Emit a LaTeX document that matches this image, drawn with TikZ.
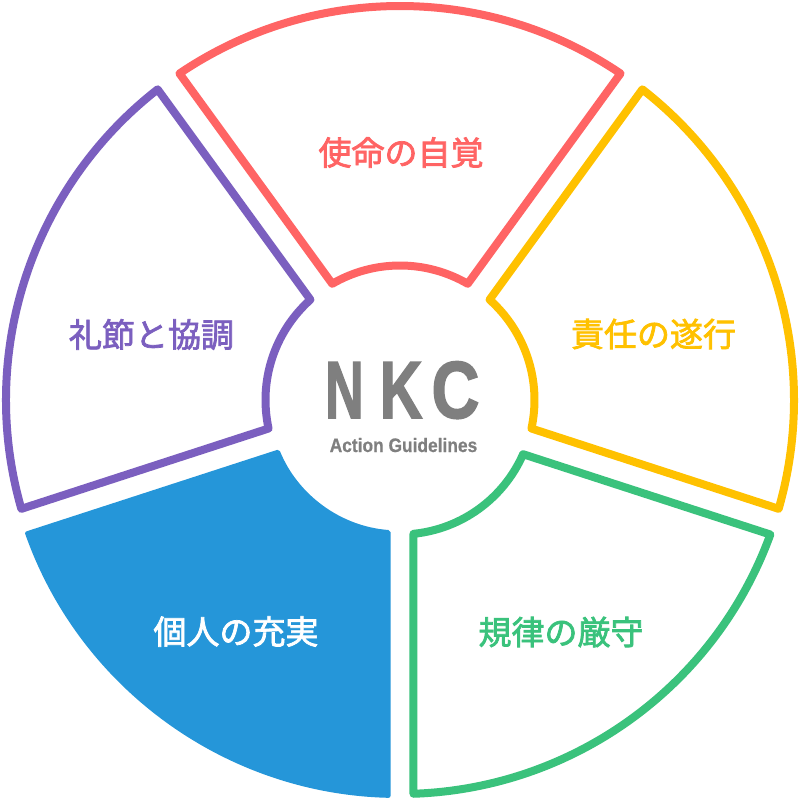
\documentclass[tikz,border=0pt]{standalone}
\usepackage{fontspec}
\newfontfamily\jpfont[FakeBold=2.2]{Noto Sans CJK JP}
\newfontfamily\nkcfont[FakeBold=2]{Liberation Sans}
\newfontfamily\subfont[FakeStretch=0.89, FakeBold=0.6]{Liberation Sans}
\definecolor{cred}{HTML}{FF6464}
\definecolor{cyellow}{HTML}{FFC100}
\definecolor{cgreen}{HTML}{3AC27C}
\definecolor{cblue}{HTML}{2596D9}
\definecolor{cpurple}{HTML}{7B5FBF}
\definecolor{cgray}{HTML}{7F7F7F}
\newcommand\ringsector[6]{%
  \pgfmathsetmacro\dOut{asin(#6/#5)}%
  \pgfmathsetmacro\dIn{asin(#6/#4)}%
  \path[#1] (#2+\dOut:#5) arc[start angle=#2+\dOut, end angle=#3-\dOut, radius=#5]
    -- (#3-\dIn:#4) arc[start angle=#3-\dIn, end angle=#2+\dIn, radius=#4] -- cycle;}
\tikzset{
  ring/.style={draw=#1, line width=8pt, line join=round, fill=white},
  lbl/.style={font=\jpfont\fontsize{33}{38}\selectfont, text=#1, inner sep=0pt},
  nkc/.style={font=\nkcfont\bfseries\fontsize{81}{90}\selectfont, text=cgray, inner sep=0pt, anchor=base}
}
\begin{document}
\begin{tikzpicture}[x=1pt,y=1pt]
\useasboundingbox (-400,-400) rectangle (400,400);
\fill[white] (-400,-400) rectangle (400,400);
% sectors
\ringsector{ring=cred}{54}{126}{134.5}{394}{13.5}
\ringsector{ring=cyellow}{-18}{54}{134.5}{394}{13.5}
\ringsector{ring=cgreen}{-90}{-18}{134.5}{394}{13.5}
\ringsector{ring=cpurple}{126}{198}{134.5}{394}{13.5}
\ringsector{fill=cblue, rounded corners=2pt}{-162}{-90}{130.5}{398}{9.5}
% labels
\node[lbl=cred]    (l1) at (1,247.5)    {使命の自覚};
\node[lbl=cyellow] (l2) at (253.5,66)   {責任の遂行};
\node[lbl=cgreen]  (l3) at (161,-232)   {規律の厳守};
\node[lbl=white]   (l4) at (-164,-231.5){個人の充実};
\node[lbl=cpurple] (l5) at (-248.5,65.5){礼節と協調};
% center
\node[nkc] (n) at (-55.5,-18) {\scalebox{0.66}[1]{N}};
\node[nkc] (k) at (1,-18)     {\scalebox{0.73}[1]{K}};
\node[nkc] (c) at (55.5,-18)  {\scalebox{0.82}[1]{C}};
\node[font=\subfont\bfseries\fontsize{19.5}{22}\selectfont, text=cgray, inner sep=0pt, anchor=base] (sub) at (3.5,-52) {Action Guidelines};
\end{tikzpicture}
\end{document}
